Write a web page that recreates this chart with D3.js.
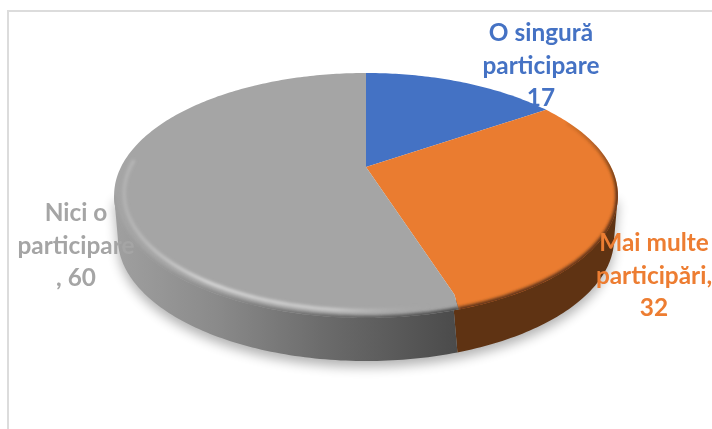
<!DOCTYPE html>
<html><head><meta charset="utf-8">
<script src="https://cdn.jsdelivr.net/npm/d3@7"></script>
<style>html,body{margin:0;padding:0;background:#fff;overflow:hidden}svg{display:block}</style>
</head><body><svg id="c" width="712" height="429"></svg>
<script>
const categories = ["O singură participare", "Mai multe participări", "Nici o participare"];
const values = [17, 32, 60];
const colors = ["#4472c4", "#ea7c30", "#a5a5a5"];
const labelColors = ["#4472c4", "#ed7d31", "#a5a5a5"];
const labelLines = [["O singură","participare","17"],["Mai multe","participări,","32"],["Nici o","participare",", 60"]];
const labelPos = [[541,33],[654,243],[76,213]];

const svg = d3.select("#c");
const defs = svg.append("defs");
const cx = 366, cy = 167, b = 245, a = 115.9, k = 0.2326, depth = 43;
const project = (ang, r = 1, dy = 0, s = 1) => {
  const u = Math.sin(ang) * r, v = -Math.cos(ang) * r, w = 1 / (1 - k * v);
  return [cx + b * u * w * s, cy + a * v * w + dy];
};
const pieGen = d3.pie().sort(null).value(d => d);
const arcs = pieGen(values);
const line = d3.line();
const sample = (a0, a1) => { const n = Math.max(2, Math.ceil((a1 - a0) * 60)); return d3.range(n + 1).map(i => a0 + (a1 - a0) * i / n); };
// silhouette tangents of the projected circle
const tanR = Math.PI - Math.acos(k), tanL = Math.PI + Math.acos(k);
const fold = 0.018;
const inFront = t => t > tanR && t < tanL;
const sectorPath = d => {
  const s = inFront(d.startAngle), e = inFront(d.endAngle);
  const a0 = d.startAngle + (s ? fold : 0), a1 = d.endAngle + (e ? fold : 0);
  const pts = [[cx, cy]];
  if (s) pts.push(project(d.startAngle, 0.92));
  pts.push(...sample(a0, a1).map(t => project(t)));
  if (e) pts.push(project(d.endAngle, 0.92));
  return line(pts) + "Z";
};
const sidePath = (a0, a1) => {
  const ts = sample(a0, a1);
  const top = ts.map(t => project(t, (t <= tanR + 1e-6 || t >= tanL - 1e-6) ? 1 : 0.95));
  const bot = ts.slice().reverse().map(t => project(t, 1, depth, 0.985));
  return line([...top, ...bot]) + "Z";
};
const full = line(sample(0, 2 * Math.PI).map(t => project(t))) + "Z";

const blur = (id, s) => defs.append("filter").attr("id", id).attr("x", "-20%").attr("y", "-20%").attr("width", "140%").attr("height", "140%")
  .append("feGaussianBlur").attr("stdDeviation", s);
blur("sh", 6); blur("rim", 1.8); blur("hi", 1.5); blur("txt", 0.45);

const gg = defs.append("linearGradient").attr("id", "graySide").attr("gradientUnits", "userSpaceOnUse")
  .attr("x1", 113).attr("x2", 460).attr("y1", 0).attr("y2", 0);
[[0, "#a0a0a0"], [0.3, "#8a8a8a"], [0.6, "#6c6c6c"], [1, "#4a4a4a"]].forEach(s => gg.append("stop").attr("offset", s[0]).attr("stop-color", s[1]));
const hg = defs.append("linearGradient").attr("id", "grayHi").attr("gradientUnits", "userSpaceOnUse")
  .attr("x1", 113).attr("x2", 430).attr("y1", 0).attr("y2", 0);
[[0, "#b8b8b8", 0.6], [0.3, "#d6d6d6", 1], [0.7, "#cfcfcf", 0.9], [1, "#a8a8a8", 0]].forEach(s => hg.append("stop").attr("offset", s[0]).attr("stop-color", s[1]).attr("stop-opacity", s[2]));
const og = defs.append("linearGradient").attr("id", "orangeRim").attr("gradientUnits", "userSpaceOnUse")
  .attr("x1", 0).attr("x2", 0).attr("y1", 112).attr("y2", 190);
[[0, 0], [1, 1]].forEach(s => og.append("stop").attr("offset", s[0]).attr("stop-color", "#5f3313").attr("stop-opacity", s[1]));
defs.append("clipPath").attr("id", "topClip").append("path").attr("d", full);

// frame
svg.append("line").attr("x1", 8).attr("x2", 712).attr("y1", 11).attr("y2", 11).attr("stroke", "#dcdcdc").attr("stroke-width", 2);
svg.append("line").attr("x1", 8).attr("x2", 8).attr("y1", 10).attr("y2", 429).attr("stroke", "#dcdcdc").attr("stroke-width", 2);

// shadow
svg.append("path").attr("d", sidePath(tanR, tanL)).attr("fill", "#000").attr("opacity", 0.3)
  .attr("transform", "translate(0,6)").attr("filter", "url(#sh)");

// sides
const sideFill = ["#25375c", "#5f3313", "url(#graySide)"];
const rimFill = ["#25375c", "url(#orangeRim)", "url(#graySide)"];
const clampRange = (d, lo, hi) => [Math.max(d.startAngle + fold, lo), Math.min(d.endAngle + fold, hi)];
svg.append("g").selectAll("path").data(arcs).join("path")
  .attr("d", d => { const [a0, a1] = clampRange(d, tanR, tanL); return a1 > a0 ? sidePath(a0, a1) : null; })
  .attr("fill", (d, i) => sideFill[i]);

// top faces
svg.append("g").selectAll("path").data(arcs).join("path")
  .attr("d", sectorPath).attr("fill", (d, i) => colors[i]);

// bevel: soft dark edge, clipped to the face
const rim = svg.append("g").attr("clip-path", "url(#topClip)");
rim.selectAll("path").data(arcs).join("path")
  .attr("d", d => {
    const [a0, a1] = clampRange(d, Math.PI * 0.36, tanL);
    return a1 > a0 ? line(sample(a0, a1).map(t => project(t, 1))) : null;
  })
  .attr("fill", "none").attr("stroke", (d, i) => rimFill[i]).attr("stroke-width", 5).attr("filter", "url(#rim)");
// highlight on the grey bevel
rim.append("path").datum(arcs[2])
  .attr("d", d => line(sample(d.startAngle + 0.1, Math.PI * 1.52).map(t => project(t, 0.962))))
  .attr("fill", "none").attr("stroke", "url(#grayHi)").attr("stroke-width", 3.5).attr("filter", "url(#hi)");

// labels
const lab = svg.append("g").attr("filter", "url(#txt)").attr("font-family", "Lato, Carlito, sans-serif").attr("font-weight", 700).attr("font-size", 24.4).attr("text-anchor", "middle");
labelLines.forEach((ls, i) => {
  lab.append("text").attr("fill", labelColors[i]).selectAll("tspan").data(ls).join("tspan")
    .attr("x", labelPos[i][0]).attr("y", (d, j) => labelPos[i][1] + 8 + j * 32.5).text(d => d);
});
</script></body></html>
